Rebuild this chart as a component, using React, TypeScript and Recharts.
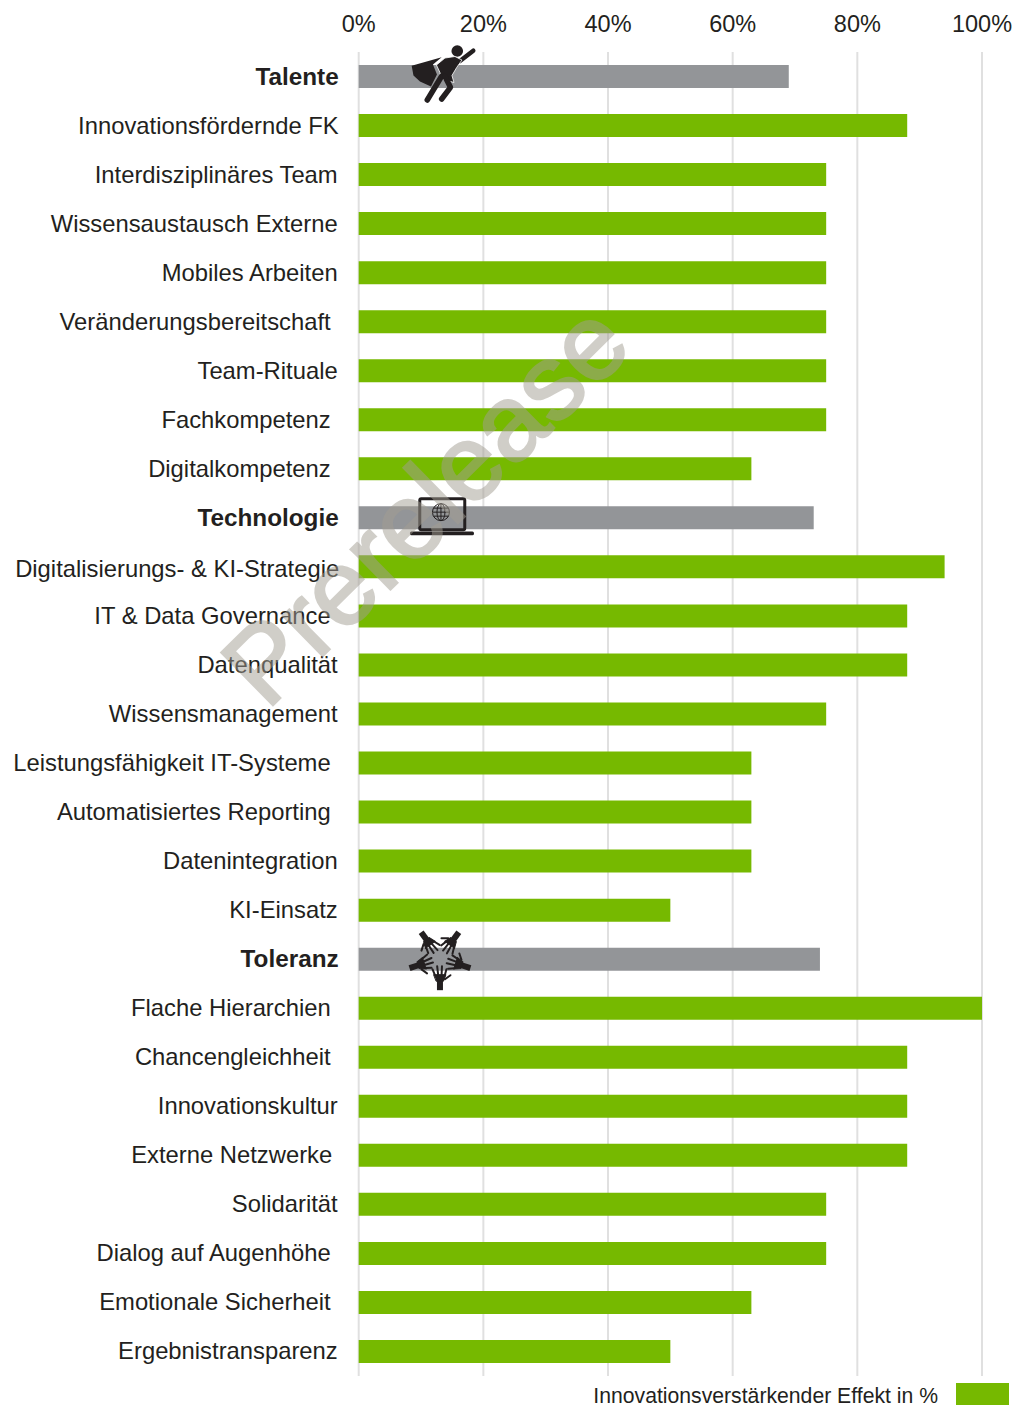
import React from "react";
import { BarChart, Bar, Cell, XAxis, YAxis, CartesianGrid, Legend, ReferenceDot } from "recharts";

const categories = [
  "Talente", "Innovationsfördernde FK", "Interdisziplinäres Team", "Wissensaustausch Externe",
  "Mobiles Arbeiten", "Veränderungsbereitschaft", "Team-Rituale", "Fachkompetenz", "Digitalkompetenz",
  "Technologie", "Digitalisierungs- & KI-Strategie", "IT & Data Governance", "Datenqualität",
  "Wissensmanagement", "Leistungsfähigkeit IT-Systeme", "Automatisiertes Reporting", "Datenintegration", "KI-Einsatz",
  "Toleranz", "Flache Hierarchien", "Chancengleichheit", "Innovationskultur", "Externe Netzwerke",
  "Solidarität", "Dialog auf Augenhöhe", "Emotionale Sicherheit", "Ergebnistransparenz",
];
const values = [
  69, 88, 75, 75, 75, 75, 75, 75, 63,
  73, 94, 88, 88, 75, 63, 63, 63, 50,
  74, 100, 88, 88, 88, 75, 75, 63, 50,
];
const headers = ["Talente", "Technologie", "Toleranz"];
// these labels sit a little further from the axis in the original
const insetLabels = [
  "Veränderungsbereitschaft", "Fachkompetenz", "Digitalkompetenz", "IT & Data Governance",
  "Leistungsfähigkeit IT-Systeme", "Automatisiertes Reporting", "Flache Hierarchien",
  "Chancengleichheit", "Externe Netzwerke", "Dialog auf Augenhöhe", "Emotionale Sicherheit",
];
const xTicks = [0, 20, 40, 60, 80, 100];
const legendLabel = "Innovationsverstärkender Effekt in %";
const watermark = "Prerelease";

const FONT = "'Liberation Sans', Arial, sans-serif";
const GREEN = "#76b900";
const GREY = "#939598";
const INK = "#231f20";

const data = categories.map((name, i) => ({ name, value: values[i] }));

function CategoryTick({ x, y, payload }: any) {
  const name = payload.value;
  const bold = headers.includes(name);
  let end = insetLabels.includes(name) ? x - 20 : x - 13;
  let dy = 8;
  if (bold || name === "Innovationsfördernde FK") end += 1;
  if (name === "Externe Netzwerke") end += 1.5;
  if (name === "Digitalisierungs- & KI-Strategie") {
    end += 1.5;
    dy = 10;
  }
  return (
    <text x={end} y={y} dy={dy} textAnchor="end" fontFamily={FONT} fontSize={bold ? 24.3 : 23.8} fontWeight={bold ? 700 : 400} fill={INK}>
      {name}
    </text>
  );
}

function PercentTick({ x, payload }: any) {
  return (
    <text x={x} y={32} textAnchor="middle" fontFamily={FONT} fontSize={23.5} fill={INK}>
      {payload.value}%
    </text>
  );
}

function Hero({ cx, cy }: any) {
  return (
    <g transform={`translate(${cx},${cy})`} fill={INK} stroke="none">
      <circle cx={11.3} cy={-25.5} r={5.8} />
      <path d="M14 -15.5 L27.3 -25.8" stroke={INK} strokeWidth={4.5} strokeLinecap="round" />
      <path d="M-34.3 -10.8 L-4.3 -19.2 L-13 -12 L-9 -2 L-15 10 L-26 5 L-32.5 -1 Z" />
      <path d="M-9.5 -11.5 L-1 -18.5 L9 -20 L16 -16.5 L10.7 -9 L6 -1 L8 6 L-5 2 L-6 -4 Z" stroke="#fff" strokeWidth={0.8} />
      <path d="M-4.5 0 L-18.7 23.5" stroke={INK} strokeWidth={5.5} strokeLinecap="round" />
      <path d="M-1 0 L4.5 10.8 L-4.3 22.5" stroke={INK} strokeWidth={5.5} strokeLinecap="round" strokeLinejoin="round" fill="none" />
    </g>
  );
}

function LaptopIcon({ cx, cy }: any) {
  return (
    <g transform={`translate(${cx},${cy})`}>
      <rect x={-26.2} y={-19.2} width={45} height={31} rx={1.5} fill="none" stroke={INK} strokeWidth={3} />
      <rect x={-36} y={13.7} width={64} height={3.6} rx={1.5} fill={INK} />
      <g transform="translate(-5,-5.7)" fill="none" stroke={INK} strokeWidth={1}>
        <circle r={8.5} />
        <ellipse rx={4} ry={8.5} />
        <path d="M0 -8.5 V8.5 M-8.5 0 H8.5 M-7.5 -4 H7.5 M-7.5 4 H7.5" />
      </g>
    </g>
  );
}

function HandsIcon({ cx, cy }: any) {
  const angles = [0, 72, 144, 216, 288];
  return (
    <g transform={`translate(${cx - 6},${cy - 1})`}>
      {angles.map((a) => (
        <g key={a} transform={`rotate(${a})`} stroke={INK} strokeLinecap="round" fill={INK}>
          <rect x={-3} y={22} width={6} height={10} stroke="none" />
          <path d="M-6 16.5 L6 16.5 L3.5 23 L-3.5 23 Z" strokeWidth={1} />
          <path d="M-5 17 L-7.5 11 M-1.8 17 L-2.8 8 M1.6 17 L2 8 M4.8 17 L6.5 11 M5 21 L10.5 17" strokeWidth={2} fill="none" />
        </g>
      ))}
    </g>
  );
}

function LegendBox() {
  return (
    <div style={{ display: "flex", justifyContent: "flex-end", alignItems: "center", height: 29, paddingRight: 10, fontFamily: FONT, fontSize: 21.2, color: INK }}>
      <span style={{ position: "relative", top: 5 }}>{legendLabel}</span>
      <span style={{ display: "inline-block", width: 53, height: 22, marginLeft: 18, marginTop: 6, background: GREEN }} />
    </div>
  );
}

export default function App() {
  return (
    <div style={{ position: "absolute", left: 0, top: 0, width: 1019, height: 1405, background: "#fff" }}>
      <BarChart
        width={1019}
        height={1405}
        data={data}
        layout="vertical"
        barCategoryGap={0}
        margin={{ top: 0, right: 37, bottom: 0, left: 0 }}
      >
        <CartesianGrid horizontal={false} stroke="#e0e0e0" strokeWidth={2} />
        <XAxis
          type="number"
          orientation="top"
          domain={[0, 100]}
          ticks={xTicks}
          height={52}
          axisLine={false}
          tickLine={false}
          tick={<PercentTick />}
        />
        <YAxis
          type="category"
          dataKey="name"
          width={358.7}
          interval={0}
          axisLine={false}
          tickLine={false}
          tick={<CategoryTick />}
        />
        <Legend content={<LegendBox />} verticalAlign="bottom" wrapperStyle={{ left: 0, width: 1019, height: 29, bottom: 0 }} />
        <Bar dataKey="value" barSize={23} isAnimationActive={false}>
          {data.map((d) => (
            <Cell key={d.name} fill={headers.includes(d.name) ? GREY : GREEN} />
          ))}
        </Bar>
        <ReferenceDot x={14} y="Talente" shape={<Hero />} ifOverflow="visible" />
        <ReferenceDot x={14} y="Technologie" shape={<LaptopIcon />} ifOverflow="visible" />
        <ReferenceDot x={14} y="Toleranz" shape={<HandsIcon />} ifOverflow="visible" />
      </BarChart>
      <svg width={1019} height={1405} style={{ position: "absolute", left: 0, top: 0, pointerEvents: "none" }}>
        <text
          x={431}
          y={510}
          textAnchor="middle"
          dominantBaseline="middle"
          transform="rotate(-44.5 431 510)"
          fontFamily={FONT}
          fontSize={106.7}
          fill="#a39e93"
          stroke="#a39e93"
          strokeWidth={2.5}
          opacity={0.5}
        >
          {watermark}
        </text>
      </svg>
    </div>
  );
}
